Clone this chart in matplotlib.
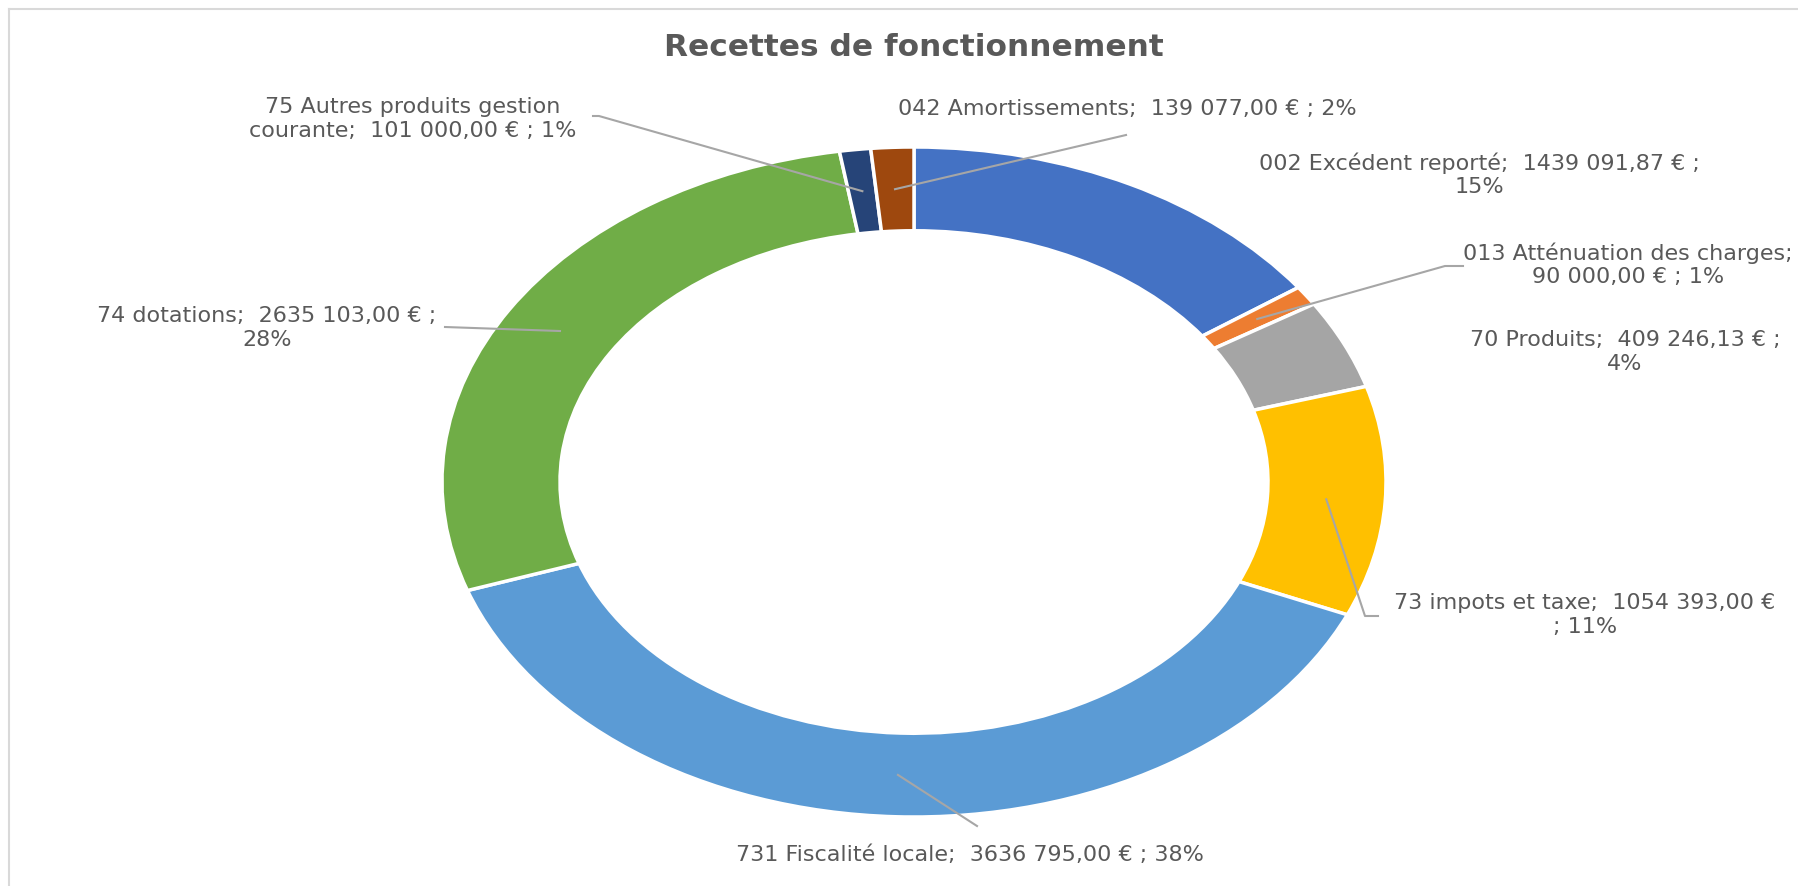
import numpy as np
import matplotlib
matplotlib.use("Agg")
import matplotlib.pyplot as plt
from matplotlib.lines import Line2D

# Figure size in pixels
W, H = 1798, 886

# Data (clockwise from top)
categories = ["002 Excédent reporté", "013 Atténuation des charges", "70 Produits",
              "73 impots et taxe", "731 Fiscalité locale", "74 dotations",
              "75 Autres produits gestion\ncourante", "042 Amortissements"]
values = [1439091.87, 90000.00, 409246.13, 1054393.00,
          3636795.00, 2635103.00, 101000.00, 139077.00]
colors = ["#4472C4", "#ED7D31", "#A5A5A5", "#FFC000",
          "#5B9BD5", "#70AD47", "#264478", "#9E480E"]

# how each label wraps
label_fmt = ["{n};  {v} € ;\n{p}%", "{n};\n{v} € ; {p}%", "{n};  {v} € ;\n{p}%",
             "{n};  {v} €\n; {p}%", "{n};  {v} € ; {p}%", "{n};  {v} € ;\n{p}%",
             "{n};  {v} € ; {p}%", "{n};  {v} € ; {p}%"]

# label centres (px from top-left) and leader line points (px)
label_pos = [(1479, 175), (1628, 265), (1625, 352), (1585, 615),
             (970, 855), (267, 328), (413, 119), (1127, 109)]
leaders = [None, [(1445, 266), (1463, 266)], None, [(1365, 616), (1378, 616)],
           [(977, 826)], [(445, 327)], [(599, 116), (593, 116)], [(1126, 135)]]

TEXT = "#595959"
LINE = "#A6A6A6"
FONT = ["DejaVu Sans"]


def fr(v):
    s = "%.2f" % v
    ip, dp = s.split(".")
    if len(ip) > 3:
        ip = ip[:-3] + " " + ip[-3:]
    return ip + "," + dp


def fig_xy(x, y):
    return x / W, 1 - y / H


# percentages rounded so they add up to 100 (like Excel)
total = sum(values)
raw = [v / total * 100 for v in values]
pcts = [int(np.floor(r)) for r in raw]
order = sorted(range(len(raw)), key=lambda i: raw[i] - pcts[i], reverse=True)
for i in order[:100 - sum(pcts)]:
    pcts[i] += 1

fig = plt.figure(figsize=(W / 100, H / 100), dpi=100)
fig.patch.set_facecolor("white")

# donut is stretched: outer radius 472 px wide, 335 px tall, centre (914, 482)
cx, cy, rx, ry = 914, 482, 472, 335
ax = fig.add_axes([(cx - rx) / W, (H - cy - ry) / H, 2 * rx / W, 2 * ry / H])
wedges, _ = ax.pie(values, colors=colors, startangle=90, counterclock=False,
                   radius=1, wedgeprops=dict(width=0.25, edgecolor="white", linewidth=2.5))
for w in wedges:
    w.set_clip_on(False)
ax.set_aspect("auto")
ax.set_xlim(-1, 1)
ax.set_ylim(-1, 1)
ax.axis("off")

# chart border (top and left visible)
fig.add_artist(Line2D([9 / W, 9 / W], [0, 1 - 9 / H], transform=fig.transFigure,
                      color="#D9D9D9", lw=1.5))
fig.add_artist(Line2D([9 / W, 1], [1 - 9 / H, 1 - 9 / H], transform=fig.transFigure,
                      color="#D9D9D9", lw=1.5))

fig.text(*fig_xy(914, 48), "Recettes de fonctionnement", ha="center", va="center",
         fontsize=22.5, fontweight="bold", color=TEXT, family=FONT)

theta = 90.0
to_fig = ax.transData + fig.transFigure.inverted()
for name, v, p, fmt, pos, lead in zip(categories, values, pcts, label_fmt, label_pos, leaders):
    frac = v / total
    mid = np.deg2rad(theta - frac * 180)
    theta -= frac * 360
    txt = fmt.format(n=name, v=fr(v), p=p)
    fig.text(*fig_xy(*pos), txt, ha="center", va="center", multialignment="center",
             fontsize=16, color=TEXT, family=FONT, linespacing=1.2)
    if lead:
        ax_pt = to_fig.transform((0.875 * np.cos(mid), 0.875 * np.sin(mid)))
        xs = [ax_pt[0]] + [q[0] / W for q in lead]
        ys = [ax_pt[1]] + [1 - q[1] / H for q in lead]
        fig.add_artist(Line2D(xs, ys, transform=fig.transFigure, color=LINE, lw=1.5))

fig.savefig("out.png", dpi=100)
